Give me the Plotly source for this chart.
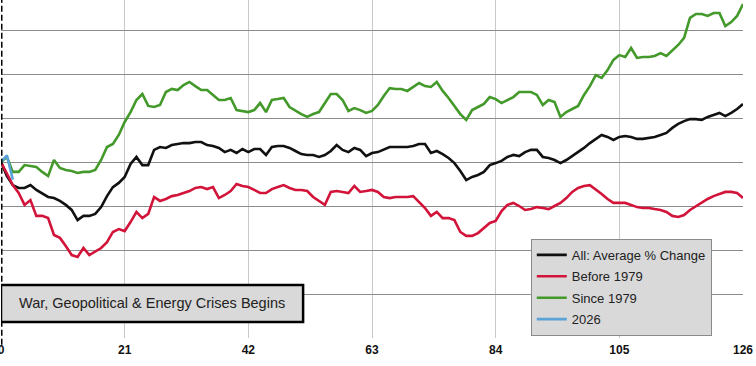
import plotly.graph_objects as go

days = list(range(127))

all_avg = [0, -0.64, -1.05, -1.18, -1.18, -1.05, -1.27, -1.45, -1.59, -1.64,
           -1.77, -1.95, -2.18, -2.64, -2.45, -2.45, -2.36, -2.05, -1.55, -1.14,
           -0.95, -0.68, -0.09, 0.23, -0.14, -0.14, 0.55, 0.68, 0.64, 0.77,
           0.82, 0.86, 0.86, 0.91, 0.91, 0.77, 0.73, 0.64, 0.45, 0.55,
           0.41, 0.59, 0.45, 0.59, 0.59, 0.32, 0.68, 0.73, 0.73, 0.64,
           0.50, 0.36, 0.32, 0.32, 0.23, 0.32, 0.50, 0.77, 0.55, 0.45,
           0.64, 0.55, 0.27, 0.41, 0.45, 0.55, 0.68, 0.68, 0.68, 0.68,
           0.73, 0.82, 0.82, 0.41, 0.50, 0.36, 0.18, -0.05, -0.41, -0.82,
           -0.68, -0.59, -0.45, -0.14, -0.05, 0.05, 0.23, 0.32, 0.27, 0.45,
           0.55, 0.55, 0.23, 0.18, 0.09, -0.05, 0.09, 0.27, 0.45, 0.64,
           0.86, 1.05, 1.23, 1.14, 1.00, 1.14, 1.18, 1.14, 1.05, 1.05,
           1.09, 1.14, 1.23, 1.32, 1.55, 1.73, 1.86, 1.95, 1.95, 1.91,
           2.05, 2.14, 2.23, 2.09, 2.23, 2.41, 2.64]

before_1979 = [0, -0.50, -1.05, -1.41, -1.95, -1.73, -2.45, -2.45, -2.55, -3.32,
               -3.45, -3.82, -4.23, -4.32, -3.91, -4.23, -4.05, -3.91, -3.64, -3.18,
               -3.05, -3.14, -2.73, -2.27, -2.55, -2.36, -1.59, -1.77, -1.68, -1.55,
               -1.50, -1.41, -1.32, -1.18, -1.14, -1.23, -1.14, -1.64, -1.50, -1.32,
               -1.00, -1.09, -1.14, -1.27, -1.41, -1.41, -1.23, -1.14, -1.05, -1.18,
               -1.27, -1.27, -1.32, -1.59, -1.77, -1.95, -1.36, -1.32, -1.36, -1.41,
               -1.09, -1.36, -1.32, -1.27, -1.36, -1.59, -1.64, -1.59, -1.59, -1.59,
               -1.55, -1.82, -2.09, -2.45, -2.27, -2.55, -2.55, -2.64, -3.18, -3.36,
               -3.36, -3.23, -3.00, -2.77, -2.68, -2.23, -1.95, -1.86, -2.00, -2.18,
               -2.14, -2.05, -2.09, -2.14, -2.00, -1.86, -1.64, -1.36, -1.18, -1.09,
               -1.05, -1.23, -1.45, -1.68, -1.86, -1.86, -1.86, -1.95, -2.05, -2.09,
               -2.09, -2.14, -2.18, -2.27, -2.45, -2.50, -2.41, -2.18, -2.00, -1.86,
               -1.68, -1.55, -1.45, -1.36, -1.36, -1.41, -1.64]

since_1979 = [0, 0.23, -0.45, -0.45, -0.14, -0.18, -0.23, -0.45, -0.64, 0.09,
              -0.27, -0.36, -0.41, -0.50, -0.45, -0.45, -0.36, 0.09, 0.68, 0.82,
              1.23, 1.82, 2.27, 2.82, 3.09, 2.55, 2.50, 2.59, 3.18, 3.32,
              3.27, 3.50, 3.64, 3.45, 3.27, 3.27, 3.05, 2.82, 2.82, 2.91,
              2.36, 2.32, 2.27, 2.36, 2.68, 2.27, 2.82, 2.86, 2.91, 2.50,
              2.32, 2.18, 2.05, 2.18, 2.27, 2.68, 3.09, 3.09, 2.82, 2.32,
              2.45, 2.36, 2.23, 2.32, 2.59, 3.00, 3.36, 3.32, 3.32, 3.23,
              3.41, 3.59, 3.45, 3.41, 3.64, 3.23, 2.91, 2.55, 2.18, 1.91,
              2.36, 2.50, 2.64, 2.95, 2.86, 2.68, 2.82, 2.95, 3.18, 3.18,
              3.18, 3.05, 2.59, 2.82, 2.73, 2.05, 2.27, 2.41, 2.55, 3.05,
              3.45, 3.95, 3.82, 4.18, 4.64, 4.86, 4.77, 5.18, 4.73, 4.77,
              4.77, 4.82, 4.95, 4.82, 5.09, 5.32, 5.64, 6.55, 6.73, 6.73,
              6.64, 6.77, 6.77, 6.18, 6.36, 6.64, 7.18]

days_2026 = [0, 1, 2]
y_2026 = [0, 0.30, -0.80]

x_ticks = [0, 21, 42, 63, 84, 105, 126]
event_label = "War, Geopolitical & Energy Crises Begins"

fig = go.Figure()
fig.add_trace(go.Scatter(x=days, y=all_avg, mode="lines", name="All: Average % Change",
                         legendgroup="g1", line=dict(color="#111111", width=2.6)))
fig.add_trace(go.Scatter(x=days, y=before_1979, mode="lines", name="Before 1979",
                         legendgroup="g2", line=dict(color="#d2143a", width=2.6)))
fig.add_trace(go.Scatter(x=days, y=since_1979, mode="lines", name="Since 1979",
                         legendgroup="g3", line=dict(color="#43992a", width=2.6)))
fig.add_trace(go.Scatter(x=days_2026, y=y_2026, mode="lines", name="2026",
                         legendgroup="g4", line=dict(color="#5aa2d8", width=2.6)))

# event marker at day 0
fig.add_shape(type="line", xref="x", yref="paper", x0=0, x1=0, y0=-0.02, y1=1,
              line=dict(color="black", width=3, dash="6px,3px"))

# event box
fig.add_shape(type="rect", xref="x", yref="y", x0=0, x1=51.3, y0=-7.27, y1=-5.59,
              fillcolor="#d9d9d9", line=dict(color="black", width=2.5), layer="above")
fig.add_annotation(x=25.65, y=-6.43, xref="x", yref="y", text=event_label, showarrow=False,
                   font=dict(family="Liberation Sans, Arial", size=14.5, color="#222222"))

fig.update_layout(
    width=756, height=366,
    margin=dict(l=1, r=13, t=0, b=28, autoexpand=False),
    plot_bgcolor="white", paper_bgcolor="white",
    showlegend=True,
    legend=dict(x=0.714, y=0.293, xanchor="left", yanchor="top",
                bgcolor="#d9d9d9", bordercolor="#8a8a8a", borderwidth=1,
                font=dict(family="Liberation Sans, Arial", size=13, color="#222222"),
                tracegroupgap=1.5, itemwidth=30),
    xaxis=dict(range=[0, 126], tickvals=x_ticks, ticktext=[str(t) for t in x_ticks],
               automargin=False, ticklabeloverflow="allow", ticklabelstandoff=3,
               showgrid=True, gridcolor="#c8c8c8", gridwidth=1, zeroline=False,
               showline=False, ticks="",
               tickfont=dict(family="Liberation Sans, Arial", size=12, color="#111111",
                             weight="bold")),
    yaxis=dict(range=[-8, 7.364], dtick=2, tick0=0, showticklabels=False,
               automargin=False,
               showgrid=True, gridcolor="#8c8c8c", gridwidth=1, zeroline=False,
               showline=False, ticks=""),
)

fig.write_html("out.html", config={"displayModeBar": False},
               post_script="document.body.style.margin='0';document.body.style.overflow='hidden';")
